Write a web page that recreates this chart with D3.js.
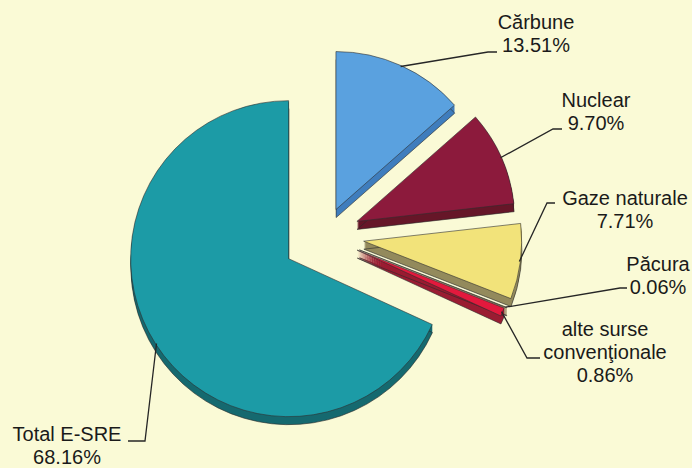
<!DOCTYPE html>
<html>
<head>
<meta charset="utf-8">
<script src="https://cdn.jsdelivr.net/npm/d3@7"></script>
<style>
  body { margin: 0; background: #fafad6; }
  svg { display: block; }
</style>
</head>
<body>
<div id="chart"></div>
<script>
// data
const categories = ['Cărbune', 'Nuclear', 'Gaze naturale', 'Păcura', 'alte surse convenţionale', 'Total E-SRE']
const values = [13.51, 9.70, 7.71, 0.06, 0.86, 68.16]
const labelLines = [['Cărbune'], ['Nuclear'], ['Gaze naturale'], ['Păcura'], ['alte surse', 'convenţionale'], ['Total E-SRE']]

// look
const topColors = ['#5aa1df', '#8c1a3c', '#f2e37a', '#8a6a3a', '#e3193d', '#1c9ba6']
const sideColors = ['#3f7dbd', '#661628', '#938a5c', '#6a4a2a', '#9a1c32', '#15696f']

const W = 692, H = 468
const cx = 324, cy = 236, R = 158, depth = 8
const explode = [29, 36, 40, 38, 36, 42]

// label placement: text centre x, first baseline, leader elbow and end
const labelPos = [
    { x: 536, y: 29, elbow: [488, 52], end: [497, 52] },
    { x: 596, y: 107, elbow: [553, 129], end: [562, 129] },
    { x: 625, y: 205, elbow: [547, 203], end: [555, 203] },
    { x: 658, y: 271, elbow: [620, 288], end: [627, 288] },
    { x: 605, y: 336, elbow: [527, 358], end: [540, 358] },
    { x: 67, y: 441, elbow: [145, 441], end: [128, 441] }
]

const data = categories.map((c, i) => ({ name: c, value: values[i], lines: labelLines[i], i }))

const svg = d3.select('#chart').append('svg')
    .attr('width', W)
    .attr('height', H)

svg.append('rect')
    .attr('width', W)
    .attr('height', H)
    .attr('fill', '#fafad6')

const pie = d3.pie().sort(null).value(d => d.value)
const arcs = pie(data)
const arc = d3.arc().innerRadius(0).outerRadius(R)

const dir = a => [Math.sin(a), -Math.cos(a)]
arcs.forEach(a => {
    const mid = (a.startAngle + a.endAngle) / 2
    const [dx, dy] = dir(mid)
    a.mid = mid
    a.ox = cx + dx * explode[a.data.i]
    a.oy = cy + dy * explode[a.data.i]
})

// side faces first
const sides = svg.append('g')
arcs.forEach(a => {
    const g = sides.append('g').attr('transform', `translate(${a.ox},${a.oy})`)
    for (let k = 1; k <= depth; k++) {
        g.append('path')
            .attr('d', arc(a))
            .attr('transform', `translate(0.2,${k})`)
            .attr('fill', sideColors[a.data.i])
            .attr('stroke', k === depth ? '#2a2a2a' : 'none')
            .attr('stroke-width', 0.6)
    }
})

// top faces
const tops = svg.append('g')
arcs.forEach(a => {
    tops.append('path')
        .attr('transform', `translate(${a.ox},${a.oy})`)
        .attr('d', arc(a))
        .attr('fill', topColors[a.data.i])
        .attr('stroke', '#2f2f2f')
        .attr('stroke-width', 0.6)
})

// leaders and labels
const line = d3.line()
const fmt = d3.format('.2f')
arcs.forEach(a => {
    const p = labelPos[a.data.i]
    const [dx, dy] = dir(a.mid)
    const start = [a.ox + dx * (R - 1), a.oy + dy * (R - 1)]
    svg.append('path')
        .attr('d', line([start, p.elbow, p.end]))
        .attr('fill', 'none')
        .attr('stroke', '#262626')
        .attr('stroke-width', 1.3)

    const t = svg.append('text')
        .attr('x', p.x)
        .attr('y', p.y)
        .attr('text-anchor', 'middle')
        .attr('font-family', '"Liberation Sans", Arial, sans-serif')
        .attr('font-size', '20px')
        .attr('fill', '#1a1a1a')
    a.data.lines.concat([fmt(a.data.value) + '%']).forEach((s, j) => {
        t.append('tspan')
            .attr('x', p.x)
            .attr('dy', j === 0 ? 0 : 23)
            .text(s)
    })
})
</script>
</body>
</html>
